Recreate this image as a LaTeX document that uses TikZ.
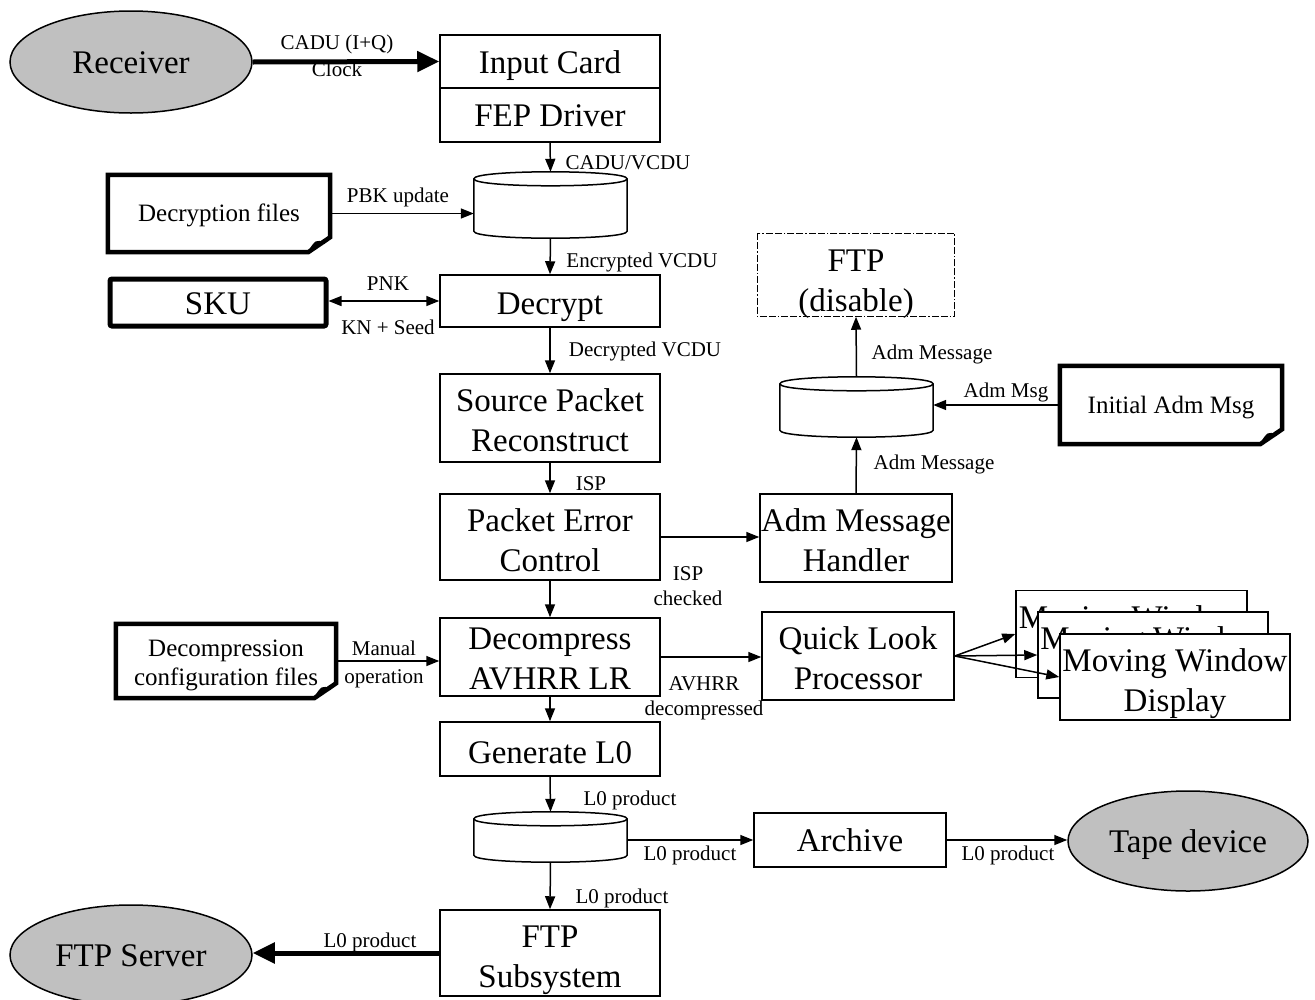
\documentclass[tikz,border=0pt]{standalone}
\usepackage{fontspec}
\setmainfont{Liberation Serif}
\usetikzlibrary{arrows.meta,shapes.geometric}
\definecolor{ovalgray}{RGB}{192,192,192}
\newcommand\bigtxt{\fontsize{33}{39.5}\selectfont}
\newcommand\doctxt{\fontsize{25}{29}\selectfont}
\newcommand\labtxt{\fontsize{21}{25}\selectfont}
\newcommand\docshape[1]{%
  \draw[line width=4.5pt,line join=miter] (#1.north west) -- (#1.north east) -- ([yshift=15pt]#1.south east) -- ([xshift=-22pt]#1.south east) -- (#1.south west) -- cycle;
  \draw[line width=1.5pt,fill=black] ([xshift=-22pt]#1.south east) .. controls ([xshift=-14pt,yshift=12pt]#1.south east) .. ([xshift=-6pt,yshift=9pt]#1.south east) -- ([yshift=15pt]#1.south east);}
\newcommand\diskshape[1]{%
  \draw[line width=1.5pt,fill=white] ([yshift=-7pt]#1.north west) .. controls ([yshift=2.33pt]#1.north west) and ([yshift=2.33pt]#1.north east) .. ([yshift=-7pt]#1.north east)
     -- ([yshift=7pt]#1.south east) .. controls ([yshift=-2.33pt]#1.south east) and ([yshift=-2.33pt]#1.south west) .. ([yshift=7pt]#1.south west) -- cycle;
  \draw[line width=1.5pt] ([yshift=-7pt]#1.north west) .. controls ([yshift=-16.33pt]#1.north west) and ([yshift=-16.33pt]#1.north east) .. ([yshift=-7pt]#1.north east);}
\begin{document}
\begin{tikzpicture}[x=1pt,y=-1pt,
  box/.style={draw,line width=1.5pt,rectangle,inner sep=0pt,align=center,font=\bigtxt,text height=23pt,text depth=0pt},
  two/.style={text height=66pt},
  plain/.style={draw=none,rectangle,inner sep=0pt,align=center},
  doc/.style={plain,font=\doctxt,text height=15pt,text depth=0pt},
  oval/.style={draw,line width=1.5pt,ellipse,fill=ovalgray,inner sep=0pt,font=\bigtxt,text height=22pt,text depth=0pt},
  lab/.style={inner sep=0pt,align=center,font=\labtxt},
  arr/.style={line width=1.5pt,-{Triangle[length=13pt,width=10pt]}},
  darr/.style={line width=1.5pt,{Triangle[length=13pt,width=10pt]}-{Triangle[length=13pt,width=10pt]}},
  bigarr/.style={line width=5pt,-{Triangle[length=22pt,width=20pt]}},
  dashdot/.style={draw,line width=1.2pt,dash pattern=on 7pt off 2pt on 7pt off 2pt on 1.5pt off 2pt}
]
\useasboundingbox (0,0) rectangle (1315,999);
\clip (0,0) rectangle (1315,999);

% nodes
\node[oval,minimum width=242pt,minimum height=102pt] (recv) at (131,62) {Receiver};
\node[box,minimum width=220pt,minimum height=53pt] (inp) at (550,61.5) {Input Card};
\node[box,minimum width=220pt,minimum height=54pt] (fep) at (550,115) {FEP Driver};
\node[plain,minimum width=153pt,minimum height=66pt] (d1) at (550.5,205) {};
\diskshape{d1}
\node[doc,minimum width=222pt,minimum height=77pt] (decf) at (219,213.5) {Decryption files};
\docshape{decf}
\node[box,minimum width=220pt,minimum height=52pt,text height=26pt] (decr) at (550,301) {Decrypt};
\node[box,line width=5pt,rounded corners=2pt,minimum width=216pt,minimum height=47pt] (sku) at (218,302.5) {SKU};
\node[box,two,minimum width=220pt,minimum height=88pt] (spr) at (550,418) {Source Packet\\Reconstruct};
\node[box,two,minimum width=220pt,minimum height=86pt,text height=68pt] (pec) at (550,537) {Packet Error\\Control};
\node[box,two,minimum width=192pt,minimum height=88pt] (amh) at (856,538) {Adm Message\\Handler};
\node[plain,minimum width=153pt,minimum height=60pt] (d2) at (856.5,407) {};
\diskshape{d2}
\node[doc,minimum width=222pt,minimum height=78pt,text height=16pt] (init) at (1171,405) {Initial Adm Msg};
\docshape{init}
\node[box,two,draw=none,minimum width=196pt,minimum height=82pt,text height=72pt,font=\fontsize{33}{40}\selectfont] (ftpd) at (856,275) {FTP\\(disable)};
\path[dashdot] (ftpd.north west) rectangle (ftpd.south east);
\node[box,two,minimum width=220pt,minimum height=78pt,text height=64pt,font=\fontsize{33}{40}\selectfont] (dcmp) at (550,657) {Decompress\\AVHRR LR};
\node[doc,minimum width=220pt,minimum height=74pt,text height=48pt] (dconf) at (226,661) {Decompression\\configuration files};
\docshape{dconf}
\node[box,two,minimum width=192pt,minimum height=88pt,font=\fontsize{33}{40}\selectfont] (qlp) at (858,656) {Quick Look\\Processor};
\node[box,two,fill=white,minimum width=231pt,minimum height=87pt,text height=68pt] (mw1) at (1131.5,634) {Moving Window\\Display};
\node[box,two,fill=white,minimum width=230pt,minimum height=86pt,text height=68pt] (mw2) at (1153,655) {Moving Window\\Display};
\node[box,two,fill=white,minimum width=230pt,minimum height=86pt,text height=68pt] (mw3) at (1175,677) {Moving Window\\Display};
\node[box,minimum width=220pt,minimum height=54pt,text height=28pt] (gen) at (550,749) {Generate L0};
\node[plain,minimum width=153pt,minimum height=50pt] (d3) at (550.5,837) {};
\diskshape{d3}
\node[box,minimum width=192pt,minimum height=54pt] (arch) at (850,840) {Archive};
\node[oval,minimum width=240pt,minimum height=100pt] (tape) at (1188,841) {Tape device};
\node[box,two,minimum width=220pt,minimum height=86pt,text height=68pt,font=\fontsize{33}{40}\selectfont] (ftps) at (550,953) {FTP\\Subsystem};
\node[oval,minimum width=242pt,minimum height=100pt] (ftpsv) at (131,955) {FTP Server};

% connectors
\draw[bigarr] (recv.east) -- (inp.west);
\draw[arr] (fep.south) -- (d1.north);
\draw[arr] (decf.east) -- (decf.east -| d1.west);
\draw[arr] (d1.south) -- (decr.north);
\draw[darr] (decr.west -| sku.east) -- (decr.west);
\draw[arr] (decr.south) -- (spr.north);
\draw[arr] (spr.south) -- (pec.north);
\draw[arr] (pec.east) -- (pec.east -| amh.west);
\draw[arr] (amh.north) -- (d2.south);
\draw[arr] (init.west) -- (init.west -| d2.east);
\draw[arr] (d2.north) -- (ftpd.south);
\draw[arr] (pec.south) -- (dcmp.north);
\draw[arr] (dconf.east) -- (dconf.east -| dcmp.west);
\draw[arr] (dcmp.east) -- (dcmp.east -| qlp.west);
\draw[arr] (qlp.east) -- (mw1.west);
\draw[arr] (qlp.east) -- (mw2.west);
\draw[arr] (qlp.east) -- (mw3.west);
\draw[arr] (dcmp.south) -- (gen.north);
\draw[arr] (gen.south) -- (d3.north);
\draw[arr] (arch.west -| d3.east) -- (arch.west);
\draw[arr] (arch.east) -- (arch.east -| tape.west);
\draw[arr] (d3.south) -- (ftps.north);
\draw[bigarr] (ftps.west) -- (ftps.west -| ftpsv.east);

% labels
\node[lab] (l1) at (337,44) {CADU (I+Q)};
\node[lab] (l2) at (337,69) {Clock};
\node[lab] (l3) at (628,163) {CADU/VCDU};
\node[lab] (l4) at (398,197) {PBK update};
\node[lab] (l5) at (642,262) {Encrypted VCDU};
\node[lab] (l6) at (388,284) {PNK};
\node[lab] (l7) at (388,327) {KN + Seed};
\node[lab] (l8) at (645,351) {Decrypted VCDU};
\node[lab] (l9) at (591,484) {ISP};
\node[lab] (l10) at (688,586) {ISP\\checked};
\node[lab] (l11) at (932,354) {Adm Message};
\node[lab] (l12) at (934,464) {Adm Message};
\node[lab] (l13) at (1006,392) {Adm Msg};
\node[lab,font=\fontsize{21}{28}\selectfont] (l14) at (384,664) {Manual\\operation};
\node[lab] (l15) at (704,698) {AVHRR\\decompressed};
\node[lab] (l16) at (630,800) {L0 product};
\node[lab] (l17) at (690,855) {L0 product};
\node[lab] (l18) at (1008,855) {L0 product};
\node[lab] (l19) at (622,898) {L0 product};
\node[lab] (l20) at (370,942) {L0 product};
\end{tikzpicture}
\end{document}
